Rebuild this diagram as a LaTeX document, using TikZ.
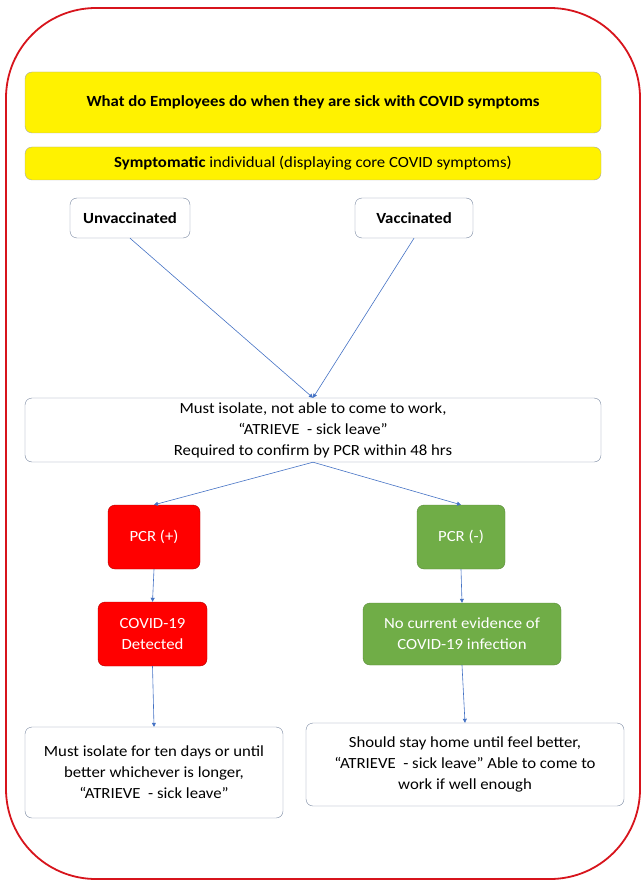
\documentclass[tikz,border=0pt]{standalone}
\usepackage{fontspec}
\setmainfont{Carlito}[FakeStretch=1.08]
\usepackage{tikz}
\usetikzlibrary{arrows.meta}
\usetikzlibrary{positioning}
\definecolor{frame}{RGB}{215,20,28}
\definecolor{boxline}{RGB}{120,135,160}
\definecolor{arrowblue}{RGB}{68,114,196}
\definecolor{pcrred}{RGB}{255,0,0}
\definecolor{pcrgreen}{RGB}{112,173,71}
\tikzset{whitebox/.style = {draw=boxline, fill=white, rounded corners=7pt,
                            align=center, font=\fontsize{15.5}{21}\selectfont},
         yellowbox/.style = {whitebox, fill=yellow, draw=gray!70},
         redbox/.style = {whitebox, fill=pcrred, draw=pcrred!70!black, text=white},
         greenbox/.style = {whitebox, fill=pcrgreen, draw=pcrgreen!80!black, text=white},
         arr/.style = {draw=arrowblue, semithick, -{Triangle[length=4pt, width=4pt]}}}

\begin{document}
\begin{tikzpicture}[x=1pt, y=-1pt]
    \useasboundingbox (0, 0) rectangle (642, 882);
    \draw [frame, line width=1.8pt, rounded corners=90pt] (6, 8) rectangle (640, 879);
    \node [yellowbox, minimum width=576, minimum height=61, font=\fontsize{15.5}{21}\bfseries] (title) at (313, 102.5)
        {What do Employees do when they are sick with COVID symptoms};
    \node [yellowbox, minimum width=576, minimum height=33] (sympt) at (313, 163.5)
        {\textbf{Symptomatic} individual (displaying core COVID symptoms)};
    \node [whitebox, minimum width=120, minimum height=40, font=\fontsize{15.5}{21}\bfseries] (unvac) at (130, 218) {Unvaccinated};
    \node [whitebox, minimum width=118, minimum height=40, font=\fontsize{15.5}{21}\bfseries] (vac) at (414, 218) {Vaccinated};
    \node [whitebox, minimum width=576, minimum height=64] (iso) at (313, 430)
        {Must isolate, not able to come to work,\\ ``ATRIEVE\ \ - sick leave''\\ Required to confirm by PCR within 48 hrs};
    \node [redbox, minimum width=92, minimum height=64] (pos) at (154, 537) {PCR (+)};
    \node [greenbox, minimum width=88, minimum height=64] (neg) at (461, 537) {PCR (-)};
    \node [redbox, minimum width=109, minimum height=64] (det) at (152.5, 634) {COVID-19\\ Detected};
    \node [greenbox, minimum width=198, minimum height=62] (noev) at (462, 634) {No current evidence of\\ COVID-19 infection};
    \node [whitebox, minimum width=258, minimum height=91] (left) at (154, 772.5)
        {Must isolate for ten days or until\\ better whichever is longer,\\ ``ATRIEVE\ \ - sick leave''};
    \node [whitebox, minimum width=318, minimum height=83] (right) at (465, 764.5)
        {Should stay home until feel better,\\ ``ATRIEVE\ \ - sick leave'' Able to come to\\ work if well enough};
    \draw [arr] (unvac.south) -- (iso.north);
    \draw [arr] (vac.south) -- (iso.north);
    \draw [arr] (iso.south) -- (pos.north);
    \draw [arr] (iso.south) -- (neg.north);
    \draw [arr] (pos.south) -- (det.north);
    \draw [arr] (det.south) -- (left.north);
    \draw [arr] (neg.south) -- (noev.north);
    \draw [arr] (noev.south) -- (right.north);
\end{tikzpicture}
\end{document}
